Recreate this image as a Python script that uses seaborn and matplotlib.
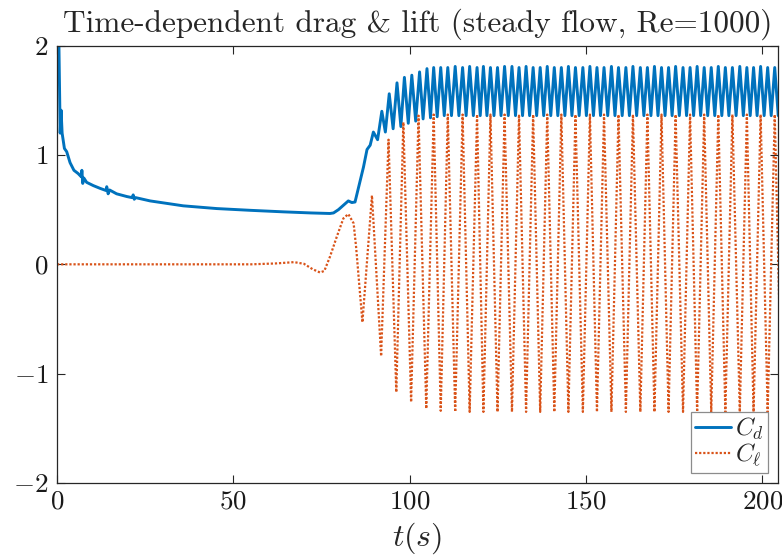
import numpy as np
import pandas as pd
import matplotlib
matplotlib.use("Agg")
import matplotlib.pyplot as plt
import seaborn as sns

# ---------------- data ----------------
# Drag coefficient: transient part
cd_trans_t = [0.5, 0.9, 1.15, 1.45, 2.1, 2.75, 3.7, 4.8, 6.0, 6.9, 7.05, 7.3, 7.6, 8.4,
              10.3, 12.2, 13.9, 14.1, 14.5, 14.9, 16.9, 19.8, 21.3, 21.6, 21.9, 22.3,
              26.4, 35.8, 45.3, 54.8, 64.2, 72.0, 77.4, 78.4, 79.8, 82.6, 83.6, 84.5,
              86.9, 87.9, 88.8, 89.7, 90.9]
cd_trans_v = [2.10, 1.20, 1.41, 1.20, 1.06, 1.03, 0.93, 0.86, 0.83, 0.80, 0.86, 0.74, 0.79, 0.75,
              0.72, 0.695, 0.675, 0.71, 0.645, 0.68, 0.645, 0.62, 0.61, 0.635, 0.595, 0.61,
              0.58, 0.535, 0.51, 0.494, 0.48, 0.47, 0.465, 0.47, 0.50, 0.58, 0.565, 0.57,
              0.89, 1.05, 1.09, 1.21, 1.14]
# Drag coefficient: oscillation maxima
cd_peak_t = [92.1, 94.2, 96.4, 98.5, 100.6, 102.8, 104.9, 106.8, 108.8, 110.8, 112.9, 115.0,
             117.0, 119.1, 120.9, 122.9, 124.9, 126.9, 129.0, 131.0, 133.0, 135.0, 137.0,
             139.0, 141.0, 143.0, 145.0, 147.0, 149.1, 151.1, 153.1, 155.1, 157.2, 159.2,
             161.3, 163.3, 165.4, 167.4, 169.4, 171.4, 173.4, 175.4, 177.5, 179.5, 181.5,
             183.5, 185.5, 187.5, 189.5, 191.5, 193.6, 195.6, 197.5, 199.5, 201.5, 203.5, 205.5]
cd_peak_v = [1.40, 1.56, 1.66, 1.71, 1.73, 1.76, 1.79, 1.80, 1.80, 1.80, 1.81, 1.80,
             1.81, 1.80, 1.81, 1.80, 1.80, 1.81, 1.81, 1.80, 1.81, 1.80, 1.80,
             1.81, 1.80, 1.80, 1.81, 1.80, 1.80, 1.81, 1.80, 1.80, 1.81, 1.80,
             1.80, 1.81, 1.80, 1.80, 1.81, 1.80, 1.80, 1.81, 1.80, 1.80, 1.81,
             1.80, 1.80, 1.81, 1.80, 1.80, 1.81, 1.80, 1.80, 1.81, 1.80, 1.80, 1.81]
# Drag coefficient: oscillation minima
cd_trough_t = [93.1, 95.3, 97.5, 99.6, 101.7, 103.8, 105.9, 107.8, 109.8, 111.85, 113.95,
               116.0, 118.05, 120.0, 121.9, 123.9, 125.9, 127.95, 130.0, 132.0, 134.0,
               136.0, 138.0, 140.0, 142.0, 144.0, 146.0, 148.05, 150.1, 152.1, 154.1,
               156.15, 158.2, 160.25, 162.3, 164.35, 166.4, 168.4, 170.4, 172.4, 174.4,
               176.45, 178.5, 180.5, 182.5, 184.5, 186.5, 188.5, 190.5, 192.55, 194.6,
               196.55, 198.5, 200.5, 202.5, 204.5]
cd_trough_v = [1.21, 1.24, 1.26, 1.29, 1.31, 1.33, 1.34, 1.35, 1.36, 1.36, 1.36,
               1.36, 1.36, 1.36, 1.36, 1.36, 1.36, 1.36, 1.36, 1.36, 1.36,
               1.36, 1.36, 1.36, 1.36, 1.36, 1.36, 1.36, 1.36, 1.36, 1.36,
               1.36, 1.36, 1.36, 1.36, 1.36, 1.36, 1.36, 1.36, 1.36, 1.36,
               1.36, 1.36, 1.36, 1.36, 1.36, 1.36, 1.36, 1.36, 1.36, 1.36,
               1.36, 1.36, 1.36, 1.36, 1.36]

# Lift coefficient: transient part
cl_trans_t = [0.0, 30.0, 55.0, 62.0, 67.2, 70.0, 72.5, 74.6, 75.8, 77.4, 79.3, 81.2,
              82.6, 84.1, 84.8]
cl_trans_v = [0.0, 0.0, 0.0, 0.008, 0.02, 0.005, -0.045, -0.075, -0.06, 0.07, 0.25, 0.42,
              0.46, 0.375, 0.16]
# Lift coefficient: oscillation maxima / minima
cl_peak_t = [89.3, 94.0, 98.2, 102.5, 106.8, 110.8, 115.0, 119.1, 122.9, 126.9, 131.0,
             135.0, 139.0, 143.0, 147.0, 151.1, 155.1, 159.2, 163.3, 167.4, 171.4, 175.4,
             179.5, 183.5, 187.5, 191.5, 195.6, 199.5, 203.5]
cl_peak_v = [0.63, 1.14, 1.30, 1.36, 1.37, 1.37, 1.37, 1.37, 1.37, 1.37, 1.37,
             1.37, 1.37, 1.37, 1.37, 1.37, 1.37, 1.37, 1.37, 1.37, 1.37, 1.37,
             1.37, 1.37, 1.37, 1.37, 1.37, 1.37, 1.37]
cl_trough_t = [86.6, 91.9, 96.2, 100.4, 104.7, 108.8, 112.9, 117.0, 120.9, 124.9, 129.0,
               133.0, 137.0, 141.0, 145.0, 149.1, 153.1, 157.2, 161.3, 165.4, 169.4,
               173.4, 177.5, 181.5, 185.5, 189.5, 193.6, 197.5, 201.5, 205.5]
cl_trough_v = [-0.53, -0.84, -1.17, -1.26, -1.32, -1.34, -1.35, -1.35, -1.35, -1.35, -1.35,
               -1.35, -1.35, -1.35, -1.35, -1.35, -1.35, -1.35, -1.35, -1.35, -1.35,
               -1.35, -1.35, -1.35, -1.35, -1.35, -1.35, -1.35, -1.35, -1.35]

x_ticks = [0, 50, 100, 150, 200]
y_ticks = [-2, -1, 0, 1, 2]

# ---------------- assemble tables ----------------
cd = pd.DataFrame({"t": cd_trans_t + cd_peak_t + cd_trough_t,
                   "v": cd_trans_v + cd_peak_v + cd_trough_v}).sort_values("t")
cl = pd.DataFrame({"t": cl_trans_t + cl_peak_t + cl_trough_t,
                   "v": cl_trans_v + cl_peak_v + cl_trough_v}).sort_values("t")

# ---------------- style ----------------
sns.set_style("ticks")
plt.rcParams.update({
    "font.family": ["cmr10", "DejaVu Serif"],
    "mathtext.fontset": "cm",
    "axes.formatter.use_mathtext": True,
    "axes.edgecolor": "#262626",
    "axes.linewidth": 0.9,
    "xtick.color": "#262626",
    "ytick.color": "#262626",
})

fig = plt.figure(figsize=(7.82, 5.59), dpi=100)
ax = fig.add_axes([0.0729, 0.136, 0.9214, 0.7823])

sns.lineplot(data=cd, x="t", y="v", ax=ax, color="#0072BD", lw=2.1,
             label=r"$C_d$", estimator=None, sort=False)
sns.lineplot(data=cl, x="t", y="v", ax=ax, color="#D95319", lw=1.6,
             linestyle=(0, (1, 0.85)), label=r"$C_\ell$", estimator=None, sort=False)

ax.set_xlim(0, 204.3)
ax.set_ylim(-2, 2)
ax.set_xticks(x_ticks)
ax.set_yticks(y_ticks)
ax.tick_params(direction="in", length=5.5, width=0.8, top=True, right=True,
               labelsize=19.5, labelcolor="#1a1a1a")
ax.tick_params(axis="x", pad=5)
ax.tick_params(axis="y", pad=6)
for s in ax.spines.values():
    s.set_visible(True)

ax.set_title("Time-dependent drag & lift (steady flow, Re=1000)", fontsize=22.5, pad=10)
ax.set_xlabel(r"$t(s)$", fontsize=23, labelpad=5)
ax.set_ylabel("")

leg = ax.legend(loc="lower right", fontsize=18, frameon=True, fancybox=False,
                edgecolor="#8c8c8c", framealpha=1, handlelength=1.45,
                handletextpad=0.15, borderpad=0.15, labelspacing=0.0,
                borderaxespad=0.4)
leg.get_frame().set_linewidth(0.9)

fig.savefig("out.png", dpi=100)
